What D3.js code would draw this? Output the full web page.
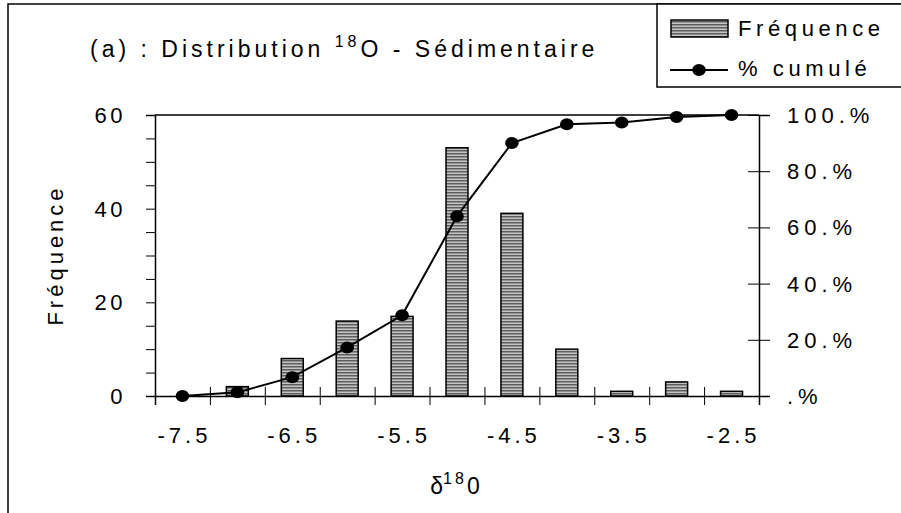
<!DOCTYPE html>
<html><head><meta charset="utf-8">
<script src="https://cdn.jsdelivr.net/npm/d3@7"></script>
<style>
html,body{margin:0;padding:0;background:#fff;}
text{font-family:"Liberation Sans",Arial,sans-serif;fill:#000;}
</style></head>
<body>
<svg id="c" width="901" height="513"></svg>
<script>
// ---- data ----
const categories = [-7.5, -7, -6.5, -6, -5.5, -5, -4.5, -4, -3.5, -3, -2.5];
const frequence = [0, 2, 8, 16, 17, 53, 39, 10, 1, 3, 1];
const cumule = [0, 1.3, 6.7, 17.3, 28.7, 64, 90, 96.7, 97.3, 99.3, 100];
const xTickLabels = [-7.5, -6.5, -5.5, -4.5, -3.5, -2.5];
const yLeftTicks = [0, 20, 40, 60];
const yRightTicks = [0, 20, 40, 60, 80, 100];
const yRightLabels = [".%", "20.%", "40.%", "60.%", "80.%", "100.%"];

const svg = d3.select("#c");
const L = 155, R = 759, T = 115, B = 396;

// pattern
const defs = svg.append("defs");
const pat = defs.append("pattern").attr("id","stripes").attr("patternUnits","userSpaceOnUse")
  .attr("width",6).attr("height",3);
pat.append("rect").attr("width",6).attr("height",3).attr("fill","#c4c4c4");
pat.append("rect").attr("width",6).attr("height",1.5).attr("fill","#5e5e5e");

// outer frame
svg.append("path").attr("d","M8,513V4H901").attr("fill","none").attr("stroke","#000").attr("stroke-width",1.5);

const xBand = d3.scaleBand().domain(categories).range([L,R]).paddingInner(0.6).paddingOuter(0.3);
const xLin = d3.scaleLinear().domain([-7.75, -2.25]).range([L,R]);
const yL = d3.scaleLinear().domain([0,60]).range([B,T]);
const yR = d3.scaleLinear().domain([0,100]).range([B,T]);

// top border
svg.append("line").attr("x1",L).attr("x2",R).attr("y1",T).attr("y2",T).attr("stroke","#000").attr("stroke-width",1.5);

// bars
svg.append("g").selectAll("rect").data(categories).join("rect")
  .attr("x", d => xBand(d)).attr("width", xBand.bandwidth())
  .attr("y", (d,i) => yL(frequence[i])).attr("height", (d,i) => B - yL(frequence[i]))
  .attr("fill","url(#stripes)").attr("stroke","#000").attr("stroke-width",1.5)
  .style("display",(d,i)=>frequence[i]>0?null:"none");

// left axis
const gl = svg.append("g").attr("transform",`translate(${L},0)`)
  .call(d3.axisLeft(yL).tickValues(d3.range(0,61,5)).tickSize(9).tickFormat(""));
gl.select(".domain").attr("stroke-width",1.5);
gl.selectAll(".tick line").attr("stroke-width",1);
svg.append("g").selectAll("text").data(yLeftTicks).join("text")
  .attr("x",126).attr("y",d=>yL(d)).attr("dy","0.36em").attr("text-anchor","end")
  .style("font-size","22px").style("letter-spacing","3.5px").text(d=>d);

// right axis
const gr = svg.append("g").attr("transform",`translate(${R},0)`)
  .call(d3.axisRight(yR).tickValues(yRightTicks).tickSize(11).tickFormat(""));
gr.select(".domain").attr("stroke-width",1.5);
gr.selectAll(".tick line").attr("x1",-11);
svg.append("g").selectAll("text").data(yRightTicks).join("text")
  .attr("x",787).attr("y",d=>yR(d)).attr("dy","0.36em")
  .style("font-size","22px").style("letter-spacing","5px").text((d,i)=>yRightLabels[i]);

// bottom axis
const bounds = d3.range(-7.75, -2.24, 0.5);
const gb = svg.append("g").attr("transform",`translate(0,${B})`)
  .call(d3.axisBottom(xLin).tickValues(bounds).tickSize(9).tickFormat(""));
gb.select(".domain").attr("stroke-width",1.5);
gb.selectAll(".tick line").attr("y1",-9);
svg.append("g").selectAll("text").data(xTickLabels).join("text")
  .attr("x",d=>xBand(d)+xBand.bandwidth()/2+2).attr("y",443).attr("text-anchor","middle")
  .style("font-size","22px").style("letter-spacing","4px").text(d=>d.toFixed(1));

// cumulative line
const line = d3.line().x((d,i)=>xBand(categories[i])+xBand.bandwidth()/2).y(d=>yR(d));
svg.append("path").datum(cumule).attr("d",line).attr("fill","none").attr("stroke","#000").attr("stroke-width",2);
svg.append("g").selectAll("ellipse").data(cumule).join("ellipse")
  .attr("cx",(d,i)=>xBand(categories[i])+xBand.bandwidth()/2).attr("cy",d=>yR(d))
  .attr("rx",6.8).attr("ry",6).attr("fill","#000");

// axis titles
svg.append("text").attr("transform","translate(63,255) rotate(-90)").attr("text-anchor","middle")
  .style("font-size","22px").style("letter-spacing","4px").text("Fréquence");
const xt = svg.append("text").attr("x",455).attr("y",494).attr("text-anchor","middle").style("font-size","23px");
xt.append("tspan").text("δ");
xt.append("tspan").attr("dy",-10).style("font-size","16px").style("letter-spacing","3px").text("18");
xt.append("tspan").attr("dy",10).text("0");

// title
const tt = svg.append("text").attr("x",90).attr("y",57).style("font-size","23px").style("letter-spacing","4px");
tt.append("tspan").text("(a) : Distribution ");
tt.append("tspan").attr("dy",-10).style("font-size","16px").text("18");
tt.append("tspan").attr("dy",10).text("O - Sédimentaire");

// legend
svg.append("rect").attr("x",657).attr("y",4).attr("width",260).attr("height",83)
  .attr("fill","#fff").attr("stroke","#000").attr("stroke-width",1.5);
svg.append("rect").attr("x",671).attr("y",20).attr("width",57).attr("height",17)
  .attr("fill","url(#stripes)").attr("stroke","#000").attr("stroke-width",1.5);
svg.append("text").attr("x",738).attr("y",36).style("font-size","22px").style("letter-spacing","4.6px").text("Fréquence");
svg.append("line").attr("x1",670).attr("x2",728).attr("y1",70).attr("y2",70).attr("stroke","#000").attr("stroke-width",2);
svg.append("ellipse").attr("cx",699).attr("cy",70).attr("rx",6.8).attr("ry",6).attr("fill","#000");
svg.append("text").attr("x",738).attr("y",76).style("font-size","22px").style("letter-spacing","4.6px").text("% cumulé");
</script>
</body></html>
